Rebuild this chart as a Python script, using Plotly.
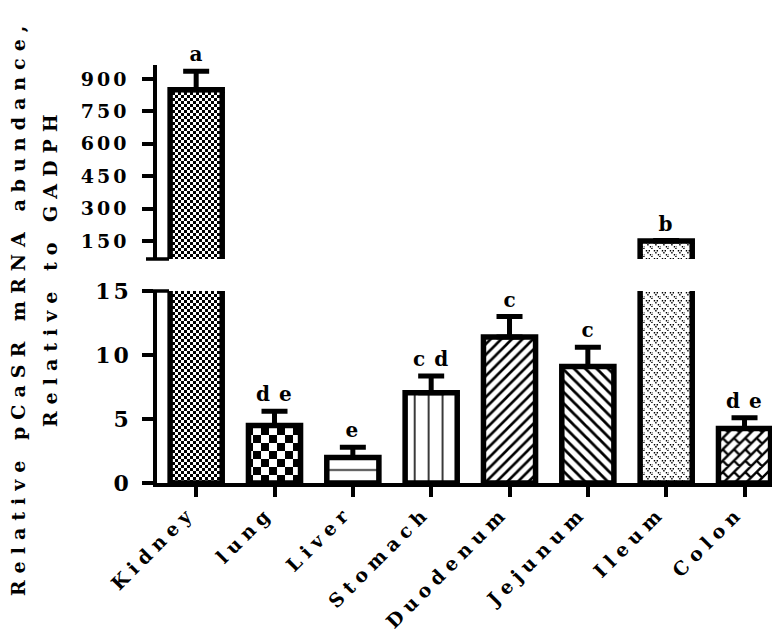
import math
import plotly.graph_objects as go

# ---------------- data ----------------
categories = ["Kidney", "lung", "Liver", "Stomach", "Duodenum", "Jejunum", "Ileum", "Colon"]
means = [850, 4.5, 2.0, 7.05, 11.4, 9.1, 150, 4.25]
sems = [86, 1.1, 0.8, 1.3, 1.6, 1.5, 2, 0.85]
letters = ["a", "de", "e", "cd", "c", "c", "b", "de"]
lower_ticks = [0, 5, 10, 15]
upper_ticks = [150, 300, 450, 600, 750, 900]
lower_range = [0, 15]
upper_range = [66.7, 964.8]
y_title_1 = "Relative pCaSR mRNA abundance,"
y_title_2 = "Relative to GADPH"

FONT = "DejaVu Serif"


def custom(path, size):
    try:
        return go.bar.marker.Pattern(path=path, size=size, solidity=1,
                                     fgcolor="black", bgcolor="white", fgopacity=1)
    except Exception:
        return go.bar.marker.Pattern(shape=".", size=size * 0.7, solidity=0.5,
                                     fgcolor="black", bgcolor="white")


def checker(size):
    h = size / 2
    return custom(f"M0,0H{h}V{h}H0Z M{h},{h}H{size}V{size}H{h}Z", size)


def bricks(p=8.0, t=2.4):
    r2 = math.sqrt(2)
    S = 2 * r2 * p
    L = 2 * p

    def xy(u, v):
        return ((u + v) / r2, (-u + v) / r2)

    polys = []
    for k in range(-2, 7):
        v0, v1 = k * p - t / 2, k * p + t / 2
        polys.append([xy(-5 * p, v0), xy(5 * p, v0), xy(5 * p, v1), xy(-5 * p, v1)])
    for k in range(-2, 6):
        off = (k % 2) * L / 2
        for j in range(-5, 6):
            uc = j * L + off
            polys.append([xy(uc - t / 2, k * p), xy(uc + t / 2, k * p),
                          xy(uc + t / 2, (k + 1) * p), xy(uc - t / 2, (k + 1) * p)])
    d = " ".join("M" + "L".join(f"{x:.2f},{y:.2f}" for x, y in poly) + "Z" for poly in polys)
    return custom(d, S)


def vdots(size=8.0, s=1.4):
    pts = [(0.8, 1.0), (3.6, 1.0), (2.2, 3.0)]
    d = []
    for ox, oy in ((0, 0), (size / 2, size / 2)):
        for x, y in pts:
            x0, y0 = x + ox, y + oy
            d.append(f"M{x0:.2f},{y0:.2f}h{s}v{s}h{-s}Z")
    return custom(" ".join(d), size)


def simple(shape, size, solidity):
    return go.bar.marker.Pattern(shape=shape, size=size, solidity=solidity,
                                 fgcolor="black", bgcolor="white", fgopacity=1)


patterns = [
    checker(6),
    checker(16),
    simple("-", 14.32, 0.1),
    simple("|", 13.93, 0.11),
    simple("/", 7.5, 0.35),
    simple("\\", 8, 0.35),
    vdots(8),
    bricks(),
]

fig = go.Figure()
for i, cat in enumerate(categories):
    for xa, ya in (("x", "y"), ("x2", "y2")):
        fig.add_trace(go.Bar(
            x=[cat], y=[means[i]], width=[0.665],
            xaxis=xa, yaxis=ya, showlegend=False,
            marker=dict(color="white", line=dict(color="black", width=5.5),
                        pattern=patterns[i]),
            error_y=dict(type="data", symmetric=False, array=[sems[i]], arrayminus=[0],
                         color="black", thickness=5, width=13),
        ))

annotations = []
for i, cat in enumerate(categories):
    upper = means[i] > lower_range[1]
    annotations.append(dict(
        x=cat, y=means[i] + sems[i], xref="x2" if upper else "x", yref="y2" if upper else "y",
        text=letters[i], showarrow=False, xanchor="center", yanchor="bottom",
        yshift=3, xshift=4, font=dict(family=FONT, size=20, weight="bold", color="black"),
    ))

n_letters = len(annotations)
annotations.append(dict(
    x=-0.22, y=0.4139, xref="paper", yref="paper", text=y_title_1, textangle=-90,
    showarrow=False, xanchor="center", yanchor="middle", yshift=3,
    font=dict(family=FONT, size=19, weight="bold", color="black"),
))
annotations.append(dict(
    x=-0.17, y=0.5096, xref="paper", yref="paper", text=y_title_2, textangle=-90,
    showarrow=False, xanchor="center", yanchor="middle", yshift=3,
    font=dict(family=FONT, size=19, weight="bold", color="black"),
))

axis_common = dict(showline=True, linewidth=3.5, linecolor="black", ticks="outside",
                   tickwidth=3.5, tickcolor="black", showgrid=False, zeroline=False)

plot_h = 632 - 57 - 157
low_top = (475 - 283) / plot_h
up_bot = (475 - 251) / plot_h

fig.update_layout(
    width=780, height=632,
    margin=dict(l=149, r=0, t=57, b=157),
    plot_bgcolor="white", paper_bgcolor="white",
    barmode="overlay", showlegend=False,
    font=dict(family=FONT, weight="bold", color="black"),
    xaxis=dict(domain=[0, 1], anchor="y", type="category", categoryorder="array",
               categoryarray=categories, range=[-0.5, 7.555], ticklen=10, tickangle=-45,
               tickfont=dict(family=FONT, size=19, weight="bold", color="black"),
               ticklabelstandoff=-3, ticklabelshift=-6, **axis_common),
    xaxis2=dict(domain=[0, 1], anchor="y2", matches="x", type="category",
                categoryorder="array", categoryarray=categories, visible=False,
                showgrid=False, zeroline=False),
    yaxis=dict(domain=[0, low_top], anchor="x", range=lower_range, tickvals=lower_ticks,
               ticktext=[str(v) for v in lower_ticks], ticklen=11,
               tickfont=dict(family=FONT, size=22, weight="bold", color="black"),
               ticklabelstandoff=6, **axis_common),
    yaxis2=dict(domain=[up_bot, 1], anchor="x2", range=upper_range, tickvals=upper_ticks,
                ticktext=[str(v) for v in upper_ticks], ticklen=11,
                tickfont=dict(family=FONT, size=19, weight="bold", color="black"),
                ticklabelstandoff=9, **axis_common),
    annotations=annotations,
)

# axis-break markers
for yref, yv in (("y domain", 1), ("y2 domain", 0)):
    fig.add_shape(type="line", xref="paper", yref=yref, x0=-11 / 631, x1=12 / 631,
                  y0=yv, y1=yv, line=dict(color="black", width=3.5), layer="above")

title_sel = ",".join(f'.js-plotly-plot .annotation[data-index="{k}"] .annotation-text'
                     for k in (n_letters, n_letters + 1))
css = (".js-plotly-plot .xtick text{letter-spacing:6px}"
       ".js-plotly-plot .ytick text{letter-spacing:3px}"
       ".js-plotly-plot .y2tick text{letter-spacing:3px}"
       ".js-plotly-plot .annotation-text{letter-spacing:9px}"
       + title_sel + "{letter-spacing:7px}")
post = ("var s=document.createElement('style');s.textContent='" + css.replace("'", "\\'") +
        "';document.head.appendChild(s);")
fig.write_html("out.html", post_script=post)
